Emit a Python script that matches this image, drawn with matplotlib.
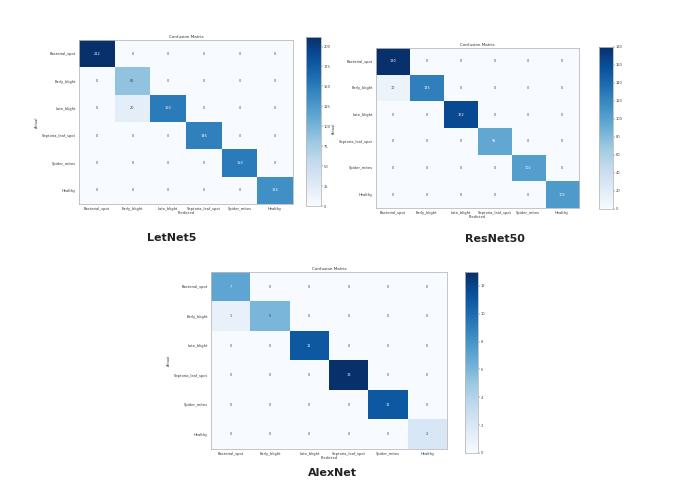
import numpy as np
import matplotlib
matplotlib.use('Agg')
import matplotlib.pyplot as plt

classes = ['Bacterial_spot', 'Early_blight', 'Late_blight',
           'Septoria_leaf_spot', 'Spider_mites', 'Healthy']

# confusion matrices (rows = actual, cols = predicted)
cm_lenet = np.array([[212, 0, 0, 0, 0, 0],
                     [0, 86, 0, 0, 0, 0],
                     [0, 20, 150, 0, 0, 0],
                     [0, 0, 0, 146, 0, 0],
                     [0, 0, 0, 0, 150, 0],
                     [0, 0, 0, 0, 0, 134]])
cm_resnet = np.array([[180, 0, 0, 0, 0, 0],
                      [10, 125, 0, 0, 0, 0],
                      [0, 0, 162, 0, 0, 0],
                      [0, 0, 0, 95, 0, 0],
                      [0, 0, 0, 0, 102, 0],
                      [0, 0, 0, 0, 0, 106]])
cm_alex = np.array([[7, 0, 0, 0, 0, 0],
                    [1, 6, 0, 0, 0, 0],
                    [0, 0, 11, 0, 0, 0],
                    [0, 0, 0, 13, 0, 0],
                    [0, 0, 0, 0, 11, 0],
                    [0, 0, 0, 0, 0, 2]])

W, H = 686, 488
fig = plt.figure(figsize=(W / 100, H / 100), dpi=100)


def box(x0, y0, x1, y1):
    # pixel box -> figure fraction
    return [x0 / W, 1 - y1 / H, (x1 - x0) / W, (y1 - y0) / H]


def draw_cm(cm, ax_box, cb_box, ticks, name, name_xy):
    ax = fig.add_axes(box(*ax_box))
    cax = fig.add_axes(box(*cb_box))
    im = ax.imshow(cm, cmap='Blues', aspect='auto', vmin=0, vmax=cm.max())
    thresh = cm.max() / 2.
    for i in range(cm.shape[0]):
        for j in range(cm.shape[1]):
            ax.text(j, i, str(cm[i, j]), ha='center', va='center', fontsize=2.5,
                    color='white' if cm[i, j] > thresh else '#444444')
    ax.set_xticks(range(len(classes)))
    ax.set_yticks(range(len(classes)))
    ax.set_xticklabels(classes, fontsize=2.6, color='#333333')
    ax.set_yticklabels(classes, fontsize=2.6, color='#333333')
    ax.tick_params(length=0, pad=2)
    ax.set_title('Confusion Matrix', fontsize=3, pad=1.5, color='#333333')
    ax.set_xlabel('Predicted', fontsize=2.6, labelpad=0.5, color='#333333')
    ax.set_ylabel('Actual', fontsize=2.6, labelpad=2, color='#333333')
    for s in ax.spines.values():
        s.set_color('#bbbbbb')
        s.set_linewidth(0.6)
    cb = fig.colorbar(im, cax=cax, ticks=ticks)
    cb.ax.tick_params(labelsize=2.6, length=1.2, width=0.3, pad=1, colors='#444444')
    cb.outline.set_edgecolor('#bbbbbb')
    cb.outline.set_linewidth(0.6)
    fig.text(name_xy[0] / W, 1 - name_xy[1] / H, name, ha='center', va='center',
             fontsize=8, fontweight='bold', color='#222222')


draw_cm(cm_lenet, (79, 40, 293, 204), (306, 37, 321, 206),
        np.arange(0, 201, 25), 'LetNet5', (172, 238))
draw_cm(cm_resnet, (376, 48, 579, 208), (599, 47, 613, 209),
        np.arange(0, 181, 20), 'ResNet50', (495, 239))
draw_cm(cm_alex, (211, 272, 447, 449), (465, 272, 478, 453),
        np.arange(0, 13, 2), 'AlexNet', (332, 473))

fig.savefig('out.png', dpi=100)
